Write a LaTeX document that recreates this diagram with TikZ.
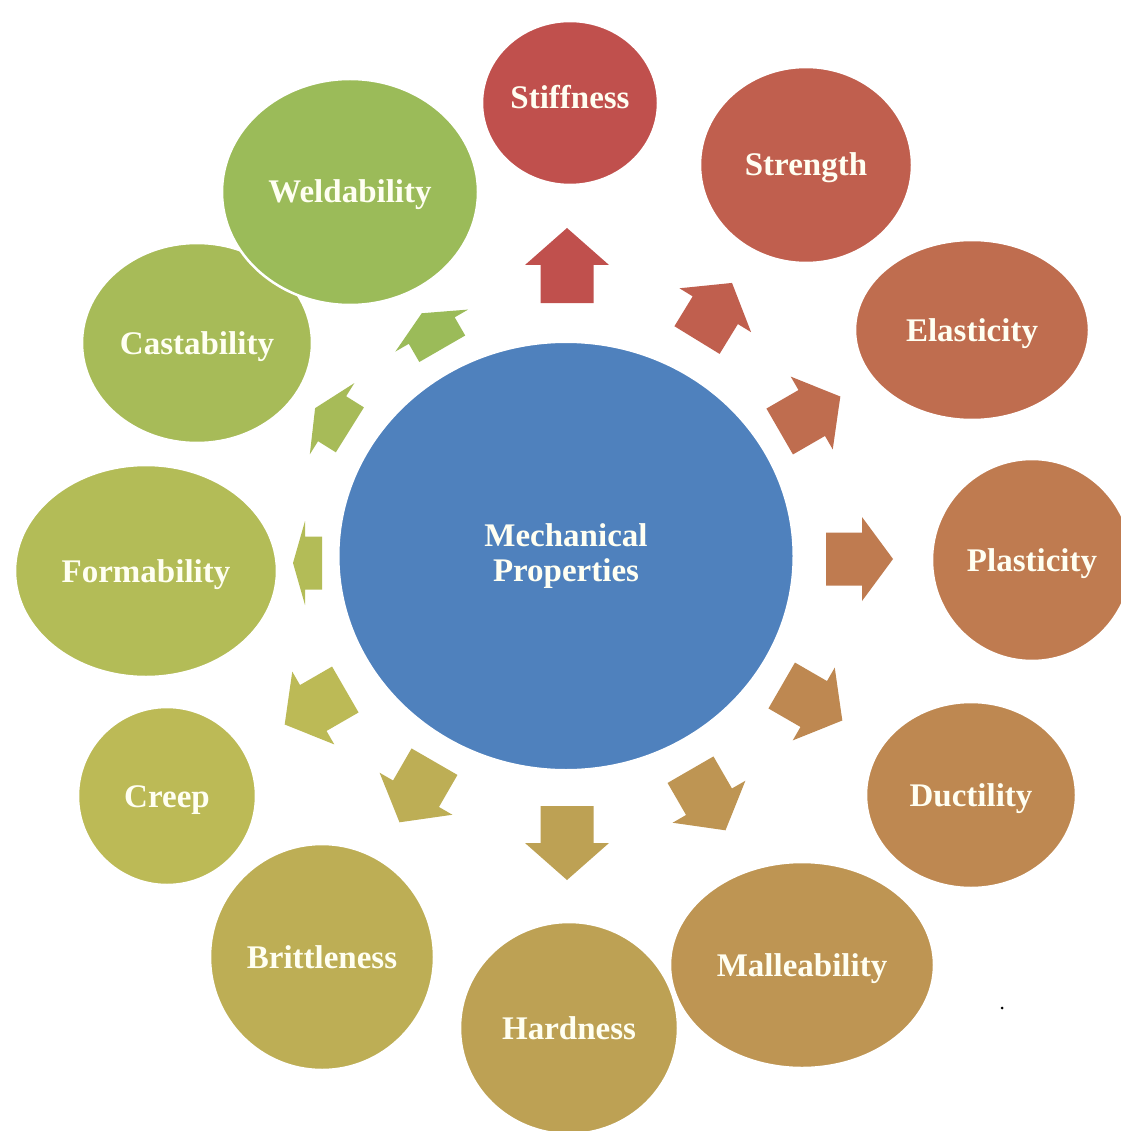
\documentclass[tikz,border=0pt]{standalone}
\usepackage{fontspec}
\setmainfont{Liberation Serif}
\usetikzlibrary{shapes.geometric}
\definecolor{c0}{RGB}{192,80,77}
\definecolor{c1}{RGB}{192,95,78}
\definecolor{c2}{RGB}{191,109,79}
\definecolor{c3}{RGB}{191,123,80}
\definecolor{c4}{RGB}{190,136,81}
\definecolor{c5}{RGB}{190,149,83}
\definecolor{c6}{RGB}{189,161,84}
\definecolor{c7}{RGB}{189,174,85}
\definecolor{c8}{RGB}{188,186,86}
\definecolor{c9}{RGB}{179,188,87}
\definecolor{c10}{RGB}{167,187,88}
\definecolor{c11}{RGB}{155,187,89}
\definecolor{hubblue}{RGB}{79,129,189}
\definecolor{txt}{RGB}{255,255,242}
% mx, my, angle, length, head length, colour
\newcommand\blockarr[6]{%
  \fill[#6, shift={(#1,#2)}, rotate=#3]
    (-#4/2,-26.5) -- (#4/2-#5,-26.5) -- (#4/2-#5,-42) -- (#4/2,0)
    -- (#4/2-#5,42) -- (#4/2-#5,26.5) -- (-#4/2,26.5) -- cycle;}
\begin{document}
\begin{tikzpicture}[x=1pt,y=-1pt,
  bubble/.style={ellipse, inner sep=0pt, draw=white, line width=2.5pt,
    text=txt, font=\fontsize{33}{36}\selectfont\bfseries,
    text height=22pt, text depth=0pt},
  hub/.style={ellipse, inner sep=0pt, draw=white, line width=2pt,
    fill=hubblue, text=txt, align=center,
    font=\fontsize{33}{35}\selectfont\bfseries}]
\useasboundingbox (0,0) rectangle (1120,1131);
\fill[white] (0,0) rectangle (1120,1131);

% block arrows
\blockarr{567}{265.5}{90}{75}{37}{c0}
\blockarr{714.5}{311.5}{58.5}{67}{32}{c1}
\blockarr{810}{414}{30}{70}{33}{c2}
\blockarr{859.5}{559}{0}{67}{31}{c3}
\blockarr{812}{703}{-30}{70}{33}{c4}
\blockarr{708}{800}{-60}{70}{33}{c5}
\blockarr{567}{843}{-90}{74}{37}{c6}
\blockarr{417}{792}{-120}{70}{33}{c7}
\blockarr{315}{707}{-150}{70}{33}{c8}
\blockarr{307.5}{563}{180}{29}{12}{c9}
\blockarr{332.5}{419}{148}{41}{20}{c10}
\blockarr{432}{331}{120}{41}{20}{c11}

% hub
\node[hub, minimum width=455pt, minimum height=428pt] (hub) at (566,556) {Mechanical\\Properties};

% outer bubbles
\node[bubble, fill=c0, minimum width=176pt, minimum height=164pt] (stiff) at (570,103) {\raisebox{5pt}{Stiffness}};
\node[bubble, fill=c1, minimum width=212pt, minimum height=196pt] (strength) at (806,165) {Strength};
\node[bubble, fill=c2, minimum width=234pt, minimum height=180pt] (elast) at (972,330) {Elasticity};
\node[bubble, fill=c3, minimum width=200pt, minimum height=202pt] (plast) at (1032,560) {Plasticity};
\node[bubble, fill=c4, minimum width=210pt, minimum height=186pt] (duct) at (971,795) {Ductility};
\node[bubble, fill=c6, minimum width=218pt, minimum height=212pt] (hard) at (569,1028) {Hardness};
\node[bubble, fill=c5, minimum width=264pt, minimum height=206pt] (mall) at (802,965) {Malleability};
\node[bubble, fill=c7, minimum width=224pt, minimum height=226pt] (britt) at (322,957) {Brittleness};
\node[bubble, fill=c8, minimum width=178pt, minimum height=178pt] (creep) at (167,796) {Creep};
\node[bubble, fill=c9, minimum width=262pt, minimum height=212pt] (form) at (146,571) {Formability};
\node[bubble, fill=c10, minimum width=230pt, minimum height=200pt] (cast) at (197,343) {Castability};
\node[bubble, fill=c11, minimum width=256pt, minimum height=226pt] (weld) at (350,192) {Weldability};

% stray dot
\fill[black] (1002,1008) circle (1.5);
\end{tikzpicture}
\end{document}
